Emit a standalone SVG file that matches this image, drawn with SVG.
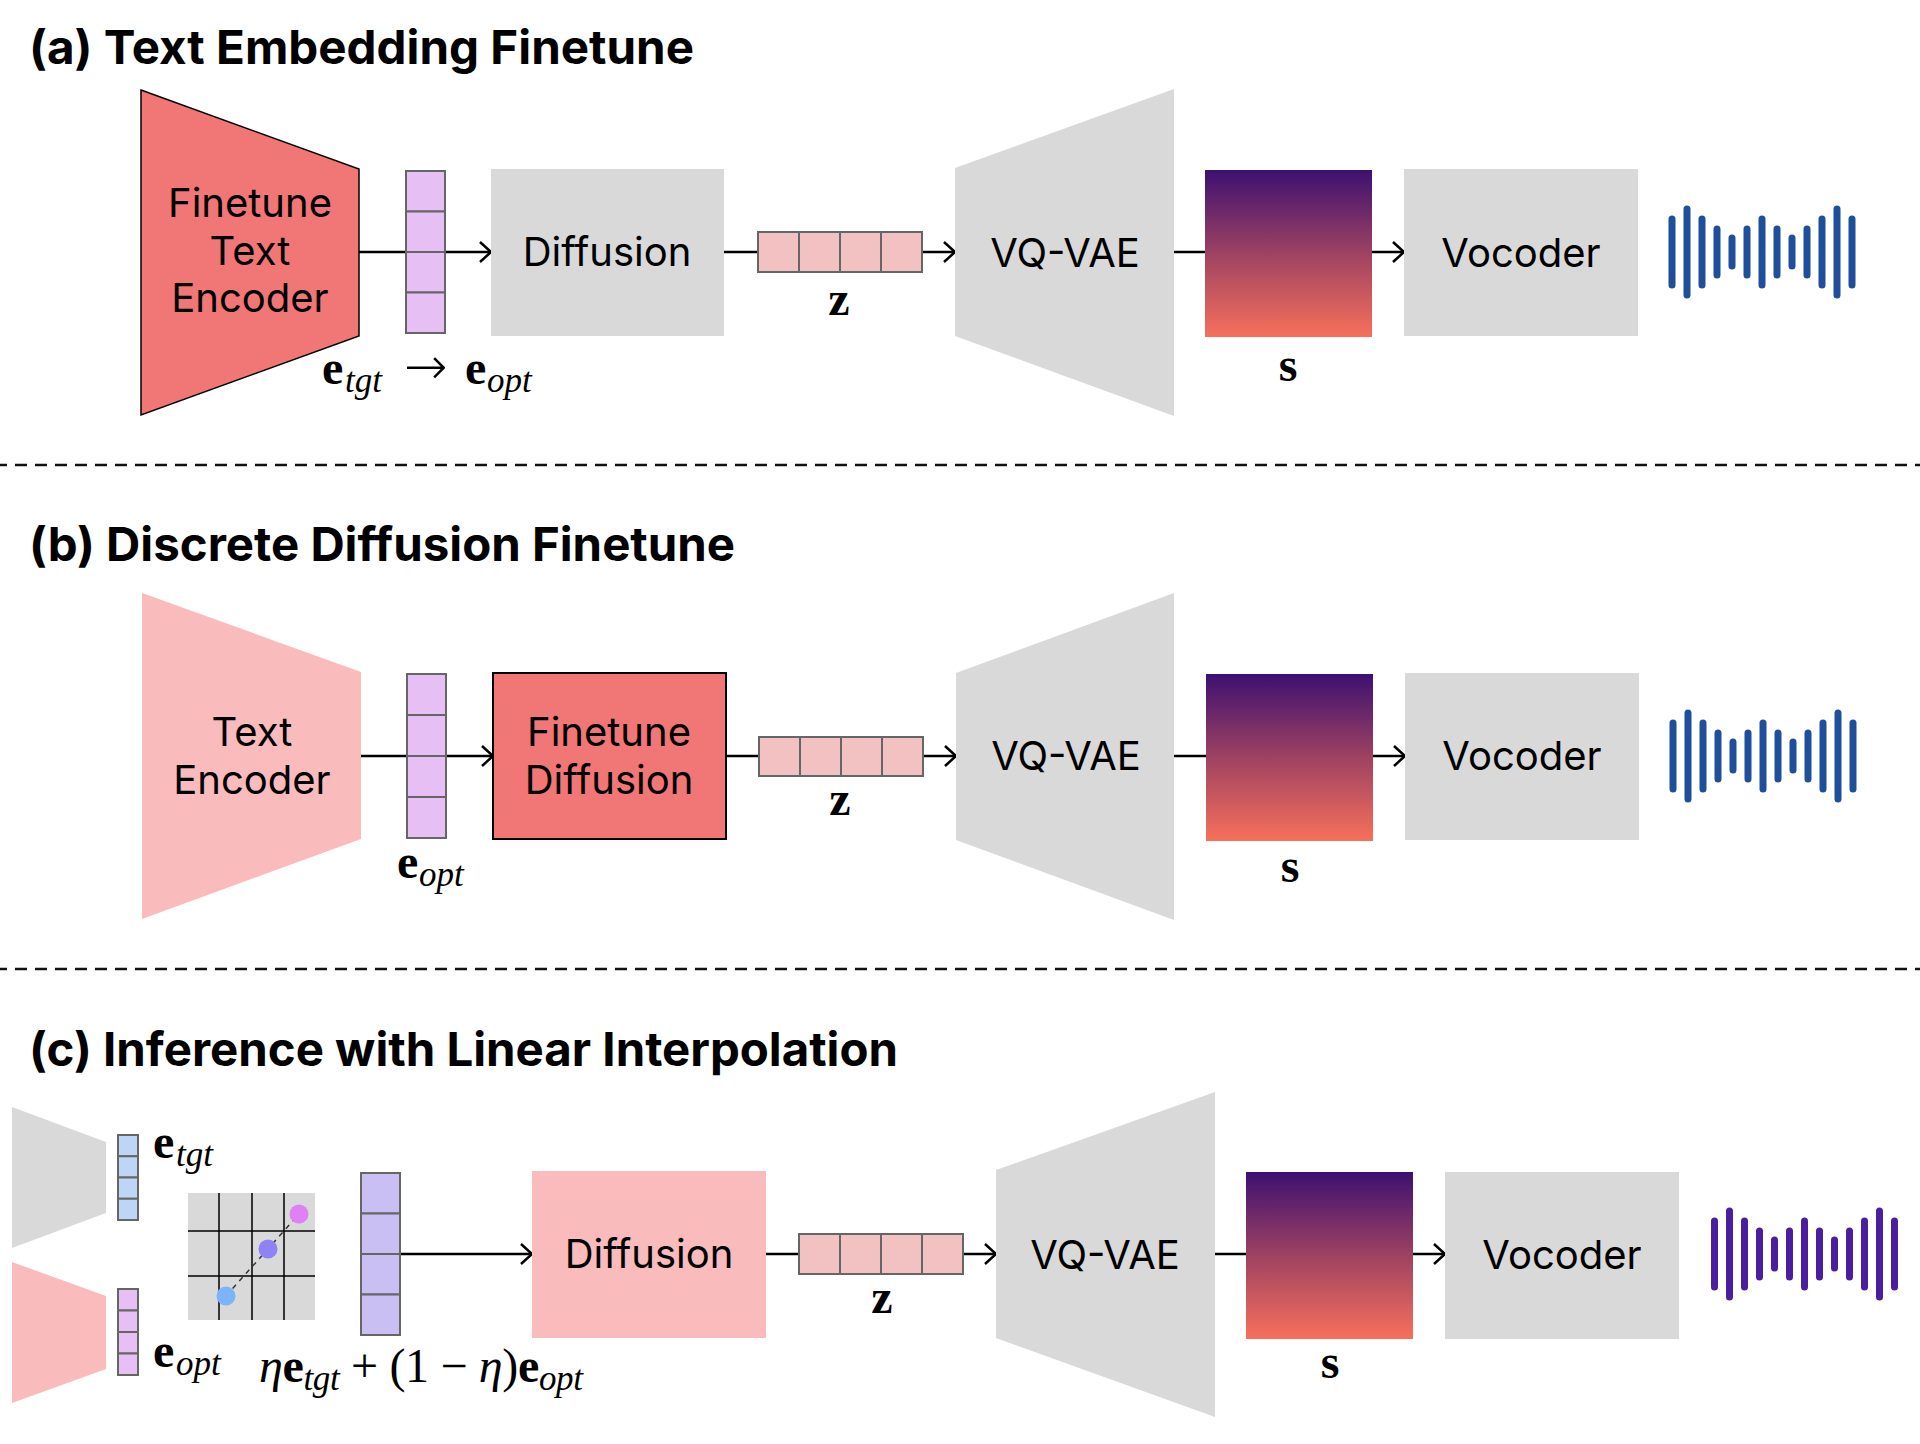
<svg xmlns="http://www.w3.org/2000/svg" width="1920" height="1444" viewBox="0 0 1920 1444">
<defs>
<style>
.title{font-family:Inter,"Noto Sans","Liberation Sans",sans-serif;font-weight:700;font-size:47px;fill:#000}
.lbl{font-family:Inter,"Noto Sans","Liberation Sans",sans-serif;font-size:40px;fill:#000;text-anchor:middle}
.math{font-family:"Liberation Serif","DejaVu Serif",serif;font-size:48px;fill:#000}
.b{font-weight:700}
.sub{font-style:italic;font-size:35px}
.it{font-style:italic}
.arrow{font-family:"DejaVu Sans",sans-serif;font-weight:200;font-size:52px}
.mid{text-anchor:middle}
.conn{stroke:#000;stroke-width:2.5;fill:none}
.sep{stroke:#111;stroke-width:2.5;stroke-dasharray:12 8;stroke-dashoffset:5;fill:none}
.gray{fill:#D9D9D9}
.red{fill:#F07775}
.pink{fill:#F9BBBB}
.cell{stroke:#666;stroke-width:2}
.vio{fill:#E6BFF4}
.zc{fill:#F2C1C1}
.blu{fill:#BFD5F5}
.lav{fill:#C9BFF2}
.grid{stroke:#000;stroke-width:1.5}
.wave{stroke-width:7;stroke-linecap:round;fill:none}
</style>
<marker id="arr" markerUnits="userSpaceOnUse" viewBox="-14 -12 16 24" markerWidth="16" markerHeight="24" refX="0" refY="0" orient="auto" overflow="visible">
<path d="M-11,-10 L0,0 L-11,10" fill="none" stroke="#000" stroke-width="2.5"/>
</marker>
<linearGradient id="spec" x1="0" y1="0" x2="0" y2="1">
<stop offset="0" stop-color="#3D1070"/>
<stop offset="0.5" stop-color="#9E4262"/>
<stop offset="1" stop-color="#F7705B"/>
</linearGradient>
</defs>
<rect width="1920" height="1444" fill="#fff"/>

<!-- titles -->
<text class="title" x="29" y="64" textLength="665" lengthAdjust="spacingAndGlyphs">(a) Text Embedding Finetune</text>
<text class="title" x="29" y="561" textLength="706" lengthAdjust="spacingAndGlyphs">(b) Discrete Diffusion Finetune</text>
<text class="title" x="29" y="1066" textLength="869" lengthAdjust="spacingAndGlyphs">(c) Inference with Linear Interpolation</text>

<!-- separators -->
<line class="sep" x1="0" y1="465" x2="1920" y2="465"/>
<line class="sep" x1="0" y1="969" x2="1920" y2="969"/>

<!-- connectors -->
<g id="connectors">
<path class="conn" d="M359,252 H491" marker-end="url(#arr)"/>
<path class="conn" d="M724,252 H955" marker-end="url(#arr)"/>
<path class="conn" d="M1174,252 H1404" marker-end="url(#arr)"/>
<path class="conn" d="M361,756 H493" marker-end="url(#arr)"/>
<path class="conn" d="M726,756 H956" marker-end="url(#arr)"/>
<path class="conn" d="M1174,756 H1405" marker-end="url(#arr)"/>
<path class="conn" d="M400,1254 H532" marker-end="url(#arr)"/>
<path class="conn" d="M766,1254 H996" marker-end="url(#arr)"/>
<path class="conn" d="M1215,1254 H1445" marker-end="url(#arr)"/>
</g>

<!-- (a) -->
<g id="a-encoder">
<polygon class="red" points="141,90 359,169 359,336 141,415" stroke="#000" stroke-width="1.5"/>
<text class="lbl" x="250" y="217">Finetune</text>
<text class="lbl" x="250" y="265">Text</text>
<text class="lbl" x="250" y="312">Encoder</text>
</g>
<g id="a-embedding">
<rect class="vio cell" x="406" y="171" width="39" height="40.5"/>
<rect class="vio cell" x="406" y="211.5" width="39" height="40.5"/>
<rect class="vio cell" x="406" y="252" width="39" height="40.5"/>
<rect class="vio cell" x="406" y="292.5" width="39" height="40.5"/>
<text class="math" y="384"><tspan class="b" x="322">e</tspan><tspan class="sub" x="345" dy="8">tgt</tspan><tspan class="arrow" x="404" dy="-8">→</tspan><tspan class="b" x="465">e</tspan><tspan class="sub" x="487" dy="8">opt</tspan></text>
</g>
<g id="a-diffusion">
<rect class="gray" x="491" y="169" width="233" height="167"/>
<text class="lbl" x="607" y="266">Diffusion</text>
</g>
<g id="a-z">
<rect class="zc cell" x="758" y="232" width="41" height="40"/>
<rect class="zc cell" x="799" y="232" width="41" height="40"/>
<rect class="zc cell" x="840" y="232" width="41" height="40"/>
<rect class="zc cell" x="881" y="232" width="41" height="40"/>
<text class="math b mid" x="839" y="315">z</text>
</g>
<g id="a-vqvae">
<polygon class="gray" points="955,168 1174,89 1174,416 955,336"/>
<text class="lbl" x="1065" y="267">VQ-VAE</text>
</g>
<g id="a-spec">
<rect x="1205" y="170" width="167" height="167" fill="url(#spec)"/>
<text class="math b mid" x="1288" y="381">s</text>
</g>
<g id="a-vocoder">
<rect class="gray" x="1404" y="169" width="234" height="167"/>
<text class="lbl" x="1521" y="267">Vocoder</text>
</g>
<g id="a-wave" class="wave" stroke="#1F4E9B">
<path d="M1672,219V285 M1687,209V295 M1702,219V285 M1717,229V275 M1732,238V266 M1747,229V275 M1762,219V285 M1777,229V275 M1792,238V266 M1807,229V275 M1822,219V285 M1837,209V295 M1852,219V285"/>
</g>

<!-- (b) -->
<g id="b-encoder">
<polygon class="pink" points="142,593 361,672 361,839 142,919"/>
<text class="lbl" x="252" y="746">Text</text>
<text class="lbl" x="252" y="794">Encoder</text>
</g>
<g id="b-embedding">
<rect class="vio cell" x="407" y="674" width="39" height="41"/>
<rect class="vio cell" x="407" y="715" width="39" height="41"/>
<rect class="vio cell" x="407" y="756" width="39" height="41"/>
<rect class="vio cell" x="407" y="797" width="39" height="41"/>
<text class="math" y="878"><tspan class="b" x="397">e</tspan><tspan class="sub" x="419" dy="8">opt</tspan></text>
</g>
<g id="b-diffusion">
<rect class="red" x="493" y="673" width="233" height="166" stroke="#000" stroke-width="2"/>
<text class="lbl" x="609" y="746">Finetune</text>
<text class="lbl" x="609" y="794">Diffusion</text>
</g>
<g id="b-z">
<rect class="zc cell" x="759" y="737" width="41" height="39"/>
<rect class="zc cell" x="800" y="737" width="41" height="39"/>
<rect class="zc cell" x="841" y="737" width="41" height="39"/>
<rect class="zc cell" x="882" y="737" width="41" height="39"/>
<text class="math b mid" x="840" y="815">z</text>
</g>
<g id="b-vqvae">
<polygon class="gray" points="956,673 1174,593 1174,920 956,840"/>
<text class="lbl" x="1066" y="770">VQ-VAE</text>
</g>
<g id="b-spec">
<rect x="1206" y="674" width="167" height="167" fill="url(#spec)"/>
<text class="math b mid" x="1290" y="882">s</text>
</g>
<g id="b-vocoder">
<rect class="gray" x="1405" y="673" width="234" height="167"/>
<text class="lbl" x="1522" y="770">Vocoder</text>
</g>
<g id="b-wave" class="wave" stroke="#1F4E9B">
<path d="M1673,723V789 M1688,713V799 M1703,723V789 M1718,733V779 M1733,742V770 M1748,733V779 M1763,723V789 M1778,733V779 M1793,742V770 M1808,733V779 M1823,723V789 M1838,713V799 M1853,723V789"/>
</g>

<!-- (c) -->
<g id="c-encoder-tgt">
<polygon class="gray" points="12,1107 106,1142 106,1213 12,1248"/>
</g>
<g id="c-encoder-opt">
<polygon class="pink" points="12,1262 106,1296 106,1369 12,1403"/>
</g>
<g id="c-emb-tgt">
<rect class="blu cell" x="118" y="1135" width="20" height="21.25"/>
<rect class="blu cell" x="118" y="1156.25" width="20" height="21.25"/>
<rect class="blu cell" x="118" y="1177.5" width="20" height="21.25"/>
<rect class="blu cell" x="118" y="1198.75" width="20" height="21.25"/>
<text class="math" y="1158"><tspan class="b" x="153">e</tspan><tspan class="sub" x="176" dy="8">tgt</tspan></text>
</g>
<g id="c-emb-opt">
<rect class="vio cell" x="118" y="1289" width="20" height="21.5"/>
<rect class="vio cell" x="118" y="1310.5" width="20" height="21.5"/>
<rect class="vio cell" x="118" y="1332" width="20" height="21.5"/>
<rect class="vio cell" x="118" y="1353.5" width="20" height="21.5"/>
<text class="math" y="1367"><tspan class="b" x="153">e</tspan><tspan class="sub" x="176" dy="8">opt</tspan></text>
</g>
<g id="c-grid">
<rect class="gray" x="188" y="1193" width="127" height="127"/>
<path class="grid" d="M219,1193V1320 M252,1193V1320 M284,1193V1320 M188,1231H315 M188,1276H315"/>
<line x1="226" y1="1296" x2="299" y2="1214" stroke="#333" stroke-width="1.5" stroke-dasharray="5 5"/>
<circle cx="299" cy="1214" r="9.5" fill="#DF80F4"/>
<circle cx="268" cy="1249" r="9.5" fill="#8E82F6"/>
<circle cx="226" cy="1296" r="9.5" fill="#7DB3F8"/>
</g>
<g id="c-embedding">
<rect class="lav cell" x="361" y="1173" width="39" height="40.5"/>
<rect class="lav cell" x="361" y="1213.5" width="39" height="40.5"/>
<rect class="lav cell" x="361" y="1254" width="39" height="40.5"/>
<rect class="lav cell" x="361" y="1294.5" width="39" height="40.5"/>
<text class="math" x="259" y="1382" textLength="324" lengthAdjust="spacing"><tspan class="it">η</tspan><tspan class="b">e</tspan><tspan class="sub" dy="8">tgt</tspan><tspan dy="-8"> + (1 − </tspan><tspan class="it">η</tspan><tspan>)</tspan><tspan class="b">e</tspan><tspan class="sub" dy="8">opt</tspan></text>
</g>
<g id="c-diffusion">
<rect class="pink" x="532" y="1171" width="234" height="167"/>
<text class="lbl" x="649" y="1268">Diffusion</text>
</g>
<g id="c-z">
<rect class="zc cell" x="799" y="1234" width="41" height="40"/>
<rect class="zc cell" x="840" y="1234" width="41" height="40"/>
<rect class="zc cell" x="881" y="1234" width="41" height="40"/>
<rect class="zc cell" x="922" y="1234" width="41" height="40"/>
<text class="math b mid" x="882" y="1313">z</text>
</g>
<g id="c-vqvae">
<polygon class="gray" points="996,1170 1215,1092 1215,1417 996,1338"/>
<text class="lbl" x="1105" y="1269">VQ-VAE</text>
</g>
<g id="c-spec">
<rect x="1246" y="1172" width="167" height="167" fill="url(#spec)"/>
<text class="math b mid" x="1330" y="1378">s</text>
</g>
<g id="c-vocoder">
<rect class="gray" x="1445" y="1172" width="234" height="167"/>
<text class="lbl" x="1562" y="1269">Vocoder</text>
</g>
<g id="c-wave" class="wave" stroke="#4A1E9E">
<path d="M1714.5,1221V1287 M1729.5,1211V1297 M1744.5,1221V1287 M1759.5,1231V1277 M1774.5,1240V1268 M1789.5,1231V1277 M1804.5,1221V1287 M1819.5,1231V1277 M1834.5,1240V1268 M1849.5,1231V1277 M1864.5,1221V1287 M1879.5,1211V1297 M1894.5,1221V1287"/>
</g>
</svg>
